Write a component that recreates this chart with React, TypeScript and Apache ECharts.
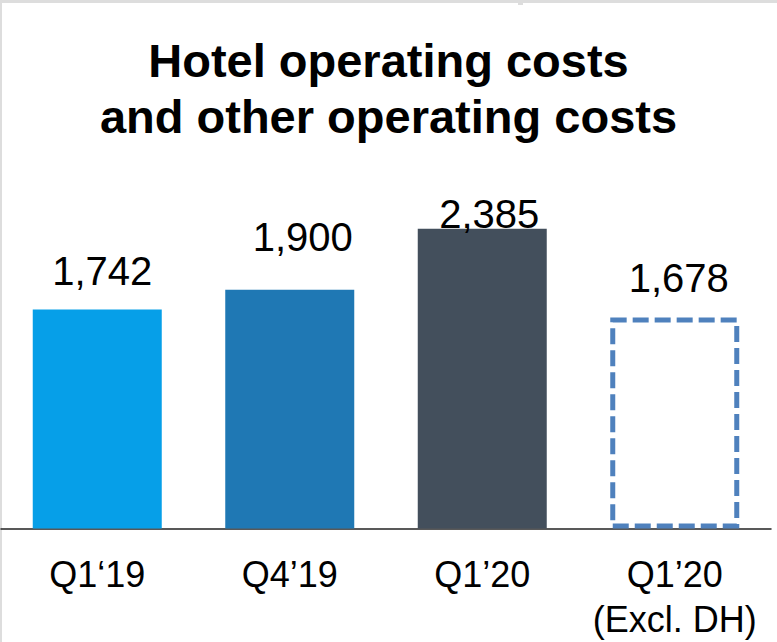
import React, { useEffect, useRef } from "react";
import * as echarts from "echarts";

const titleText = "Hotel operating costs\nand other operating costs";
const categories = ["Q1‘19", "Q4’19", "Q1’20", "Q1’20\n(Excl. DH)"];
const values = [1742, 1900, 2385, 1678];
const valueLabels = ["1,742", "1,900", "2,385", "1,678"];

const barColors = ["#069FE8", "#1F78B4", "#434F5C", "#FFFFFF"];
const labelOffsets: [number, number][] = [
  [5, -19],
  [13, -33],
  [7, 5],
  [4, -20],
];

const FONT = "'Liberation Sans', Arial, Helvetica, sans-serif";

export default function App() {
  const ref = useRef<HTMLDivElement>(null);

  useEffect(() => {
    document.body.style.margin = "0";
    if (!ref.current) return;
    const chart = echarts.init(ref.current, undefined, { renderer: "svg" });

    const data = values.map((v, i) => {
      const dashed = i === 3;
      return {
        value: v,
        itemStyle: dashed
          ? {
              color: "#FFFFFF",
              borderColor: "#4F81BD",
              borderWidth: 5,
              borderType: [16, 6],
            }
          : { color: barColors[i] },
        label: {
          show: true,
          position: "top",
          distance: 0,
          offset: labelOffsets[i],
          formatter: valueLabels[i],
        },
      };
    });

    chart.setOption({
      animation: false,
      backgroundColor: "#FFFFFF",
      grid: { left: 1, right: 6, top: 151.4, bottom: 113.5 },
      xAxis: {
        type: "category",
        data: categories,
        axisLine: { show: true, lineStyle: { color: "#222222", width: 1.5 } },
        axisTick: { show: false },
        axisLabel: {
          interval: 0,
          margin: 23,
          color: "#000000",
          fontFamily: FONT,
          fontSize: 36,
          lineHeight: 45,
        },
      },
      yAxis: {
        type: "value",
        min: 0,
        max: 3000,
        show: false,
        splitLine: { show: false },
      },
      series: [
        {
          type: "bar",
          data,
          barWidth: 129,
          label: {
            color: "#000000",
            fontFamily: FONT,
            fontSize: 40,
            lineHeight: 40,
          },
        },
      ],
      graphic: [
        {
          type: "rect",
          shape: { x: 0, y: 0, width: 777, height: 3 },
          style: { fill: "#DDDDDD" },
          silent: true,
        },
        {
          type: "rect",
          shape: { x: 0, y: 0, width: 2, height: 642 },
          style: { fill: "#DDDDDD" },
          silent: true,
        },
        {
          type: "rect",
          shape: { x: 518, y: 0, width: 5, height: 5 },
          style: { fill: "#DDDDDD" },
          silent: true,
        },
        {
          type: "text",
          x: 388.5,
          y: 32,
          silent: true,
          style: {
            text: titleText,
            align: "center",
            verticalAlign: "top",
            fill: "#000000",
            fontFamily: FONT,
            fontSize: 47,
            fontWeight: "bold",
            lineHeight: 56,
          },
        },
      ],
    });

    return () => chart.dispose();
  }, []);

  return <div ref={ref} style={{ width: 777, height: 642 }} />;
}
